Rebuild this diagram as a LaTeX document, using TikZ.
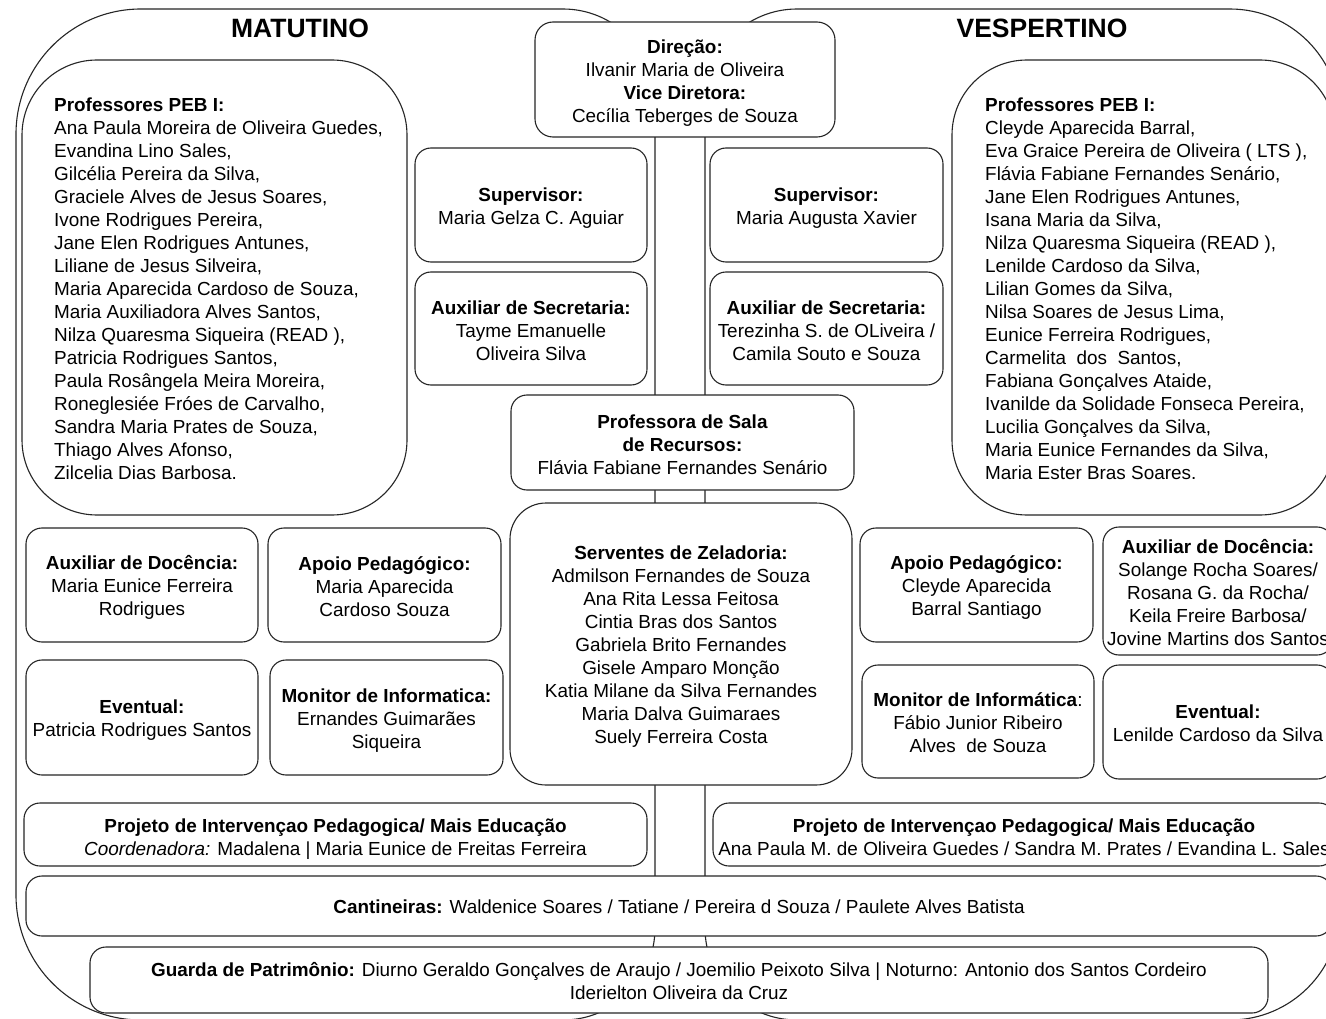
\documentclass[tikz,border=0pt]{standalone}
\usepackage{fontspec}
\setmainfont{Liberation Sans}
\begin{document}
\begin{tikzpicture}[x=1pt,y=-1pt,
  shp/.style={draw=black!85,line width=1.1pt},
  cbox/.style={draw=black!85,line width=1.1pt,fill=white,rounded corners=16pt,inner sep=0pt},
  ctext/.style={align=center,inner sep=0pt,font=\fontsize{18.9}{23}\selectfont,text=black},
  pebbox/.style={cbox,rounded corners=75pt,minimum width=#1,minimum height=455pt},
  pebtxt/.style={anchor=west,align=left,inner sep=0pt,font=\fontsize{18.9}{23}\selectfont,text=black},
  ttl/.style={font=\fontsize{26.5}{30}\selectfont\bfseries,text=black,inner sep=0pt}]
\path[use as bounding box,fill=white] (0,0) rectangle (1326,1019);
\clip (0,0) rectangle (1326,1019);
% big background shapes
\draw[shp] (141,9) -- (563,9) arc[start angle=-90,end angle=0,radius=92] -- (655,928)
  arc[start angle=0,end angle=90,radius=92] -- (141,1020) arc[start angle=90,end angle=180,radius=125]
  -- (16,134) arc[start angle=180,end angle=270,radius=125] -- cycle;
\draw[shp] (797,9) -- (1230,9) arc[start angle=-90,end angle=0,radius=110] -- (1340,910)
  arc[start angle=0,end angle=90,radius=110] -- (797,1020) arc[start angle=90,end angle=180,radius=92]
  -- (705,101) arc[start angle=180,end angle=270,radius=92] -- cycle;
% titles
\node[ttl] (mat) at (300,28.5) {MATUTINO};
\node[ttl] (ves) at (1042,28.5) {VESPERTINO};
% PEB boxes
\node[pebbox=385pt] (pebl) at (214.5,287.5) {};
\node[pebtxt] (pebltxt) at (54,289) {\textbf{Professores PEB I:}\\
Ana Paula Moreira de Oliveira Guedes,\\
Evandina Lino Sales,\\
Gilcélia Pereira da Silva,\\
Graciele Alves de Jesus Soares,\\
Ivone Rodrigues Pereira,\\
Jane Elen Rodrigues Antunes,\\
Liliane de Jesus Silveira,\\
Maria Aparecida Cardoso de Souza,\\
Maria Auxiliadora Alves Santos,\\
Nilza Quaresma Siqueira (READ ),\\
Patricia Rodrigues Santos,\\
Paula Rosângela Meira Moreira,\\
Roneglesiée Fróes de Carvalho,\\
Sandra Maria Prates de Souza,\\
Thiago Alves Afonso,\\
Zilcelia Dias Barbosa.};
\node[pebbox=383pt] (pebr) at (1143.5,287.5) {};
\node[pebtxt] (pebrtxt) at (985,289) {\textbf{Professores PEB I:}\\
Cleyde Aparecida Barral,\\
Eva Graice Pereira de Oliveira ( LTS ),\\
Flávia Fabiane Fernandes Senário,\\
Jane Elen Rodrigues Antunes,\\
Isana Maria da Silva,\\
Nilza Quaresma Siqueira (READ ),\\
Lenilde Cardoso da Silva,\\
Lilian Gomes da Silva,\\
Nilsa Soares de Jesus Lima,\\
Eunice Ferreira Rodrigues,\\
Carmelita\ \ dos\ \ Santos,\\
Fabiana Gonçalves Ataide,\\
Ivanilde da Solidade Fonseca Pereira,\\
Lucilia Gonçalves da Silva,\\
Maria Eunice Fernandes da Silva,\\
Maria Ester Bras Soares.};
% centre column
\node[cbox,rounded corners=18pt,minimum width=300pt,minimum height=115pt] (dir) at (685,79.5) {};
\node[ctext,yshift=-4pt] (dirt) at (dir.center)
  {\textbf{Direção:}\\Ilvanir Maria de Oliveira\\\textbf{Vice Diretora:}\\Cecília Teberges de Souza};
\node[cbox,minimum width=232pt,minimum height=114pt] (supl) at (531,205) {};
\node[ctext,yshift=-3pt] (suplt) at (supl.center) {\textbf{Supervisor:}\\Maria Gelza C. Aguiar};
\node[cbox,minimum width=233pt,minimum height=114pt] (supr) at (826.5,205) {};
\node[ctext,yshift=-3pt] (suprt) at (supr.center) {\textbf{Supervisor:}\\Maria Augusta Xavier};
\node[cbox,minimum width=232pt,minimum height=113pt] (secl) at (531,328.5) {};
\node[ctext,yshift=-2pt] (seclt) at (secl.center) {\textbf{Auxiliar de Secretaria:}\\Tayme Emanuelle\\Oliveira Silva};
\node[cbox,minimum width=233pt,minimum height=113pt] (secr) at (826.5,328.5) {};
\node[ctext,yshift=-2pt] (secrt) at (secr.center) {\textbf{Auxiliar de Secretaria:}\\Terezinha S. de OLiveira /\\Camila Souto e Souza};
\node[cbox,minimum width=343pt,minimum height=95pt] (rec) at (682.5,442.5) {};
\node[ctext,yshift=-2pt] (rect) at (rec.center) {\textbf{Professora de Sala}\\\textbf{de Recursos:}\\Flávia Fabiane Fernandes Senário};
\node[cbox,rounded corners=36pt,minimum width=342pt,minimum height=282pt] (zel) at (681,644) {};
\node[ctext,yshift=-3pt] (zelt) at (zel.center)
  {\textbf{Serventes de Zeladoria:}\\Admilson Fernandes de Souza\\Ana Rita Lessa Feitosa\\Cintia Bras dos Santos\\
   Gabriela Brito Fernandes\\Gisele Amparo Monção\\Katia Milane da Silva Fernandes\\Maria Dalva Guimaraes\\Suely Ferreira Costa};
% left small boxes
\node[cbox,minimum width=232pt,minimum height=114pt] (docl) at (142,585) {};
\node[ctext,yshift=-2.5pt] (doclt) at (docl.center) {\textbf{Auxiliar de Docência:}\\Maria Eunice Ferreira\\Rodrigues};
\node[cbox,minimum width=233pt,minimum height=114pt] (apol) at (384.5,585) {};
\node[ctext,yshift=-2pt] (apolt) at (apol.center) {\textbf{Apoio Pedagógico:}\\Maria Aparecida\\Cardoso Souza};
\node[cbox,minimum width=232pt,minimum height=115pt] (evel) at (142,717.5) {};
\node[ctext,yshift=-3pt] (evelt) at (evel.center) {\textbf{Eventual:}\\Patricia Rodrigues Santos};
\node[cbox,minimum width=233pt,minimum height=115pt] (monl) at (386.5,717.5) {};
\node[ctext,yshift=-3pt] (monlt) at (monl.center) {\textbf{Monitor de Informatica:}\\Ernandes Guimarães\\Siqueira};
% right small boxes
\node[cbox,minimum width=233pt,minimum height=114pt] (apor) at (976.5,585) {};
\node[ctext,yshift=-2.5pt] (aport) at (apor.center) {\textbf{Apoio Pedagógico:}\\Cleyde Aparecida\\Barral Santiago};
\node[cbox,minimum width=230pt,minimum height=128pt] (docr) at (1218,591) {};
\node[ctext,yshift=-2pt] (docrt) at (docr.center)
  {\textbf{Auxiliar de Docência:}\\Solange Rocha Soares/\\Rosana G. da Rocha/\\Keila Freire Barbosa/\\Jovine Martins dos Santos};
\node[cbox,minimum width=232pt,minimum height=113pt] (monr) at (978,721.5) {};
\node[ctext,yshift=-1.5pt] (monrt) at (monr.center) {\textbf{Monitor de Informática}:\\Fábio Junior Ribeiro\\Alves\ \ de Souza};
\node[cbox,minimum width=230pt,minimum height=114pt] (ever) at (1218,722) {};
\node[ctext,yshift=-1.5pt] (evert) at (ever.center) {\textbf{Eventual:}\\Lenilde Cardoso da Silva};
% bottom bands
\node[cbox,minimum width=623pt,minimum height=63pt] (prjl) at (335.5,834.5) {};
\node[ctext,yshift=-4.5pt] (prjlt) at (prjl.center)
  {\textbf{Projeto de Intervençao Pedagogica/ Mais Educação}\\\textit{Coordenadora:} Madalena | Maria Eunice de Freitas Ferreira};
\node[cbox,minimum width=622pt,minimum height=63pt] (prjr) at (1024,834.5) {};
\node[ctext,yshift=-2.5pt] (prjrt) at (prjr.center)
  {\textbf{Projeto de Intervençao Pedagogica/ Mais Educação}\\Ana Paula M. de Oliveira Guedes / Sandra M. Prates / Evandina L. Sales};
\node[cbox,minimum width=1306pt,minimum height=60pt] (cant) at (679,906) {};
\node[ctext,yshift=-1pt] (cantt) at (cant.center)
  {\textbf{Cantineiras:} Waldenice Soares / Tatiane / Pereira d Souza / Paulete Alves Batista};
\node[cbox,minimum width=1178pt,minimum height=66pt] (guar) at (679,980) {};
\node[ctext,yshift=-1pt] (guart) at (guar.center)
  {\textbf{Guarda de Patrimônio:} Diurno Geraldo Gonçalves de Araujo / Joemilio Peixoto Silva | Noturno: Antonio dos Santos Cordeiro\\Iderielton Oliveira da Cruz};
\end{tikzpicture}
\end{document}
